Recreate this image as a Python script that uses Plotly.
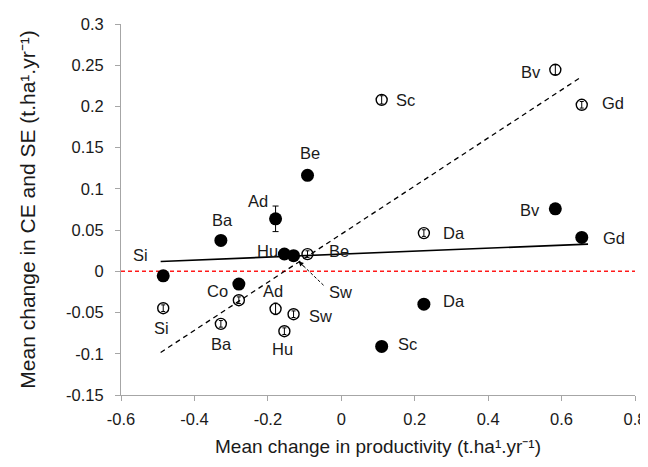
import plotly.graph_objects as go

# ---- data ----
sites = ["Si", "Ba", "Co", "Ad", "Hu", "Sw", "Be", "Sc", "Da", "Bv", "Gd"]
productivity = [-0.485, -0.328, -0.279, -0.179, -0.155, -0.130, -0.092, 0.110, 0.225, 0.583, 0.655]
ce_change = [-0.0055, 0.0375, -0.0155, 0.0637, 0.021, 0.019, 0.1164, -0.0911, -0.0398, 0.0758, 0.0411]
ce_err = [0.002, 0.002, 0.002, 0.0155, 0.002, 0.002, 0.002, 0.002, 0.002, 0.006, 0.002]
se_change = [-0.0447, -0.0637, -0.035, -0.0455, -0.0726, -0.052, 0.0209, 0.208, 0.0464, 0.2445, 0.202]
se_err = [0.004, 0.004, 0.004, 0.007, 0.004, 0.004, 0.004, 0.005, 0.004, 0.006, 0.004]

# trend lines (end points)
ce_trend_x = [-0.492, 0.672]
ce_trend_y = [0.012, 0.033]
se_trend_x = [-0.492, 0.652]
se_trend_y = [-0.0984, 0.2353]

x_ticks = [-0.6, -0.4, -0.2, 0, 0.2, 0.4, 0.6, 0.8]
x_ticktext = ["-0.6", "-0.4", "-0.2", "0", "0.2", "0.4", "0.6", "0.8"]
y_ticks = [-0.15, -0.1, -0.05, 0, 0.05, 0.1, 0.15, 0.2, 0.25, 0.3]
y_ticktext = ["-0.15", "-0.1", "-0.05", "0", "0.05", "0.1", "0.15", "0.2", "0.25", "0.3"]

# label offsets in pixels (dx right, dy up) – styling only
ce_label_off = {"Si": (-23, 21), "Ba": (2, 20), "Co": (-21, -7), "Ad": (-18, 18),
                "Hu": (-17, 3), "Be": (2, 22), "Sc": (26, 2), "Da": (30, 3),
                "Bv": (-25, -1), "Gd": (32, -1)}
se_label_off = {"Si": (-2, -20), "Ba": (1, -20), "Ad": (-3, 18), "Hu": (-2, -18),
                "Sw": (27, -2), "Be": (31, 3), "Sc": (24, 0), "Da": (30, 0),
                "Bv": (-24, -2), "Gd": (31, 2)}

FONT = "Liberation Sans"
TXT = "#1a1a1a"
X_RANGE = [-0.6, 0.8]
Y_RANGE = [-0.15, 0.3]
L, R, T, B = 113, 21, 16, 80
W, H = 648, 467
px_per_x = (W - L - R) / (X_RANGE[1] - X_RANGE[0])
px_per_y = (H - T - B) / (Y_RANGE[1] - Y_RANGE[0])

fig = go.Figure()

# zero reference line
fig.add_trace(go.Scatter(x=X_RANGE, y=[0, 0], mode="lines",
                         line=dict(color="#ff1a1a", width=1.5, dash="4px,3px"),
                         hoverinfo="skip", showlegend=False))

# trend lines
fig.add_trace(go.Scatter(x=se_trend_x, y=se_trend_y, mode="lines",
                         line=dict(color="black", width=1.3, dash="5px,4px"),
                         showlegend=False))
fig.add_trace(go.Scatter(x=ce_trend_x, y=ce_trend_y, mode="lines",
                         line=dict(color="black", width=1.6),
                         showlegend=False))

# SE (open markers)
fig.add_trace(go.Scatter(x=productivity, y=se_change, mode="markers", name="SE",
                         marker=dict(symbol="circle-open", size=11, color="black",
                                     line=dict(width=1.4, color="black")),
                         error_y=dict(type="data", array=se_err, color="black",
                                      thickness=1, width=2),
                         showlegend=False))

# CE (filled markers)
fig.add_trace(go.Scatter(x=productivity, y=ce_change, mode="markers", name="CE",
                         marker=dict(symbol="circle", size=13, color="black"),
                         error_y=dict(type="data", array=ce_err, color="black",
                                      thickness=1, width=3),
                         showlegend=False))

annotations = []
for s, x, y in zip(sites, productivity, ce_change):
    if s in ce_label_off:
        dx, dy = ce_label_off[s]
        annotations.append(dict(x=x, y=y, text=s, showarrow=False, xshift=dx, yshift=dy,
                                font=dict(family=FONT, size=16.5, color=TXT)))
for s, x, y in zip(sites, productivity, se_change):
    if s in se_label_off:
        dx, dy = se_label_off[s]
        annotations.append(dict(x=x, y=y, text=s, showarrow=False, xshift=dx, yshift=dy,
                                font=dict(family=FONT, size=16.5, color=TXT)))

# Sw (CE) label with dashed pointer arrow
i_sw = sites.index("Sw")
sw_x, sw_y = productivity[i_sw], ce_change[i_sw]
head = (sw_x + 5 / px_per_x, sw_y - 5.6 / px_per_y)
tail = (sw_x + 30 / px_per_x, sw_y - 29.6 / px_per_y)
fig.add_trace(go.Scatter(x=[tail[0], head[0]], y=[tail[1], head[1]], mode="lines",
                         line=dict(color="black", width=1, dash="3px,2px"),
                         hoverinfo="skip", showlegend=False))
annotations.append(dict(x=head[0], y=head[1], ax=7, ay=7, text="", showarrow=True,
                        arrowhead=2, arrowsize=1, arrowwidth=1, arrowcolor="black"))
annotations.append(dict(x=sw_x, y=sw_y, text="Sw", showarrow=False, xshift=47, yshift=-36,
                        font=dict(family=FONT, size=16.5, color=TXT)))

axis_common = dict(showgrid=False, zeroline=False, showline=True, linecolor="#a6a6a6",
                   linewidth=1, ticks="outside", ticklen=5, tickcolor="#a6a6a6",
                   tickfont=dict(family=FONT, size=16.5, color=TXT))

fig.update_layout(
    width=W, height=H,
    margin=dict(l=L, r=R, t=T, b=B, autoexpand=False),
    paper_bgcolor="white", plot_bgcolor="white",
    xaxis=dict(range=X_RANGE, tickvals=x_ticks, ticktext=x_ticktext,
               title=dict(text="Mean change in productivity (t.ha¹.yr⁻¹)",
                          font=dict(family=FONT, size=19, color=TXT), standoff=12),
               ticklabelstandoff=4, **axis_common),
    yaxis=dict(range=Y_RANGE, tickvals=y_ticks, ticktext=y_ticktext,
               title=dict(text="Mean change in CE and SE (t.ha¹.yr⁻¹)",
                          font=dict(family=FONT, size=21, color=TXT), standoff=24),
               ticklabelstandoff=8, **axis_common),
    annotations=annotations,
)

fig.write_html("out.html")
